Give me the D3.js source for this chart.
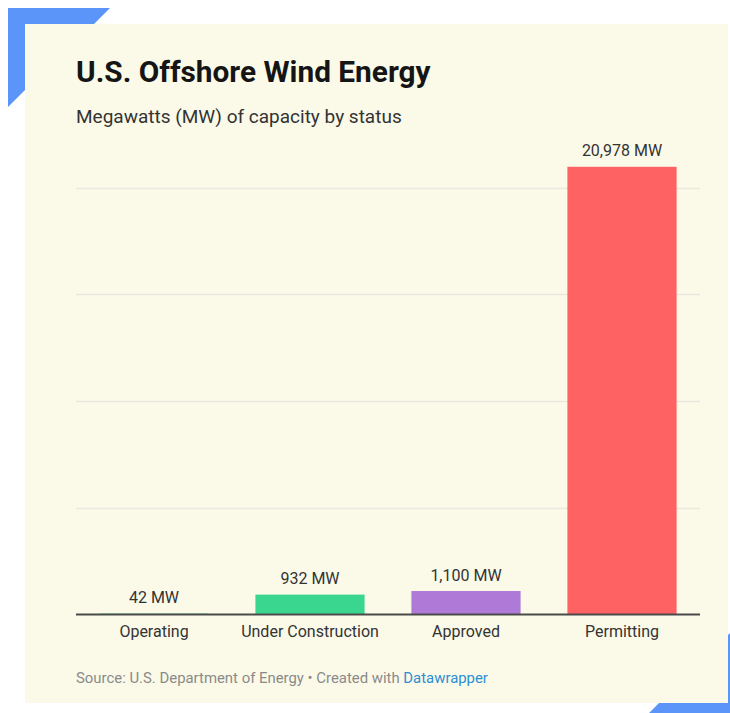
<!DOCTYPE html>
<html>
<head>
<meta charset="utf-8">
<script src="https://cdn.jsdelivr.net/npm/d3@7"></script>
<style>
  html, body { margin: 0; padding: 0; background: #ffffff; }
  svg { display: block; }
</style>
</head>
<body>
<svg id="chart" width="730" height="713"></svg>
<script>
// Offshore wind capacity by project status (MW)
const categories = ["Operating", "Under Construction", "Approved", "Permitting"];
const capacityMW = [42, 932, 1100, 20978];
const barColors = ["#3ad690", "#3ad690", "#af79d8", "#ff6262"];
const gridValues = [5000, 10000, 15000, 20000];

const titleText = "U.S. Offshore Wind Energy";
const subtitleText = "Megawatts (MW) of capacity by status";
const sourceText = "Source: U.S. Department of Energy • Created with ";
const creditText = "Datawrapper";

const svg = d3.select("#chart");
const font = "Roboto, 'Noto Sans', sans-serif";

// Blue corner brackets behind the card
const accent = "#5b95f9";
svg.append("polygon")
  .attr("points", "8,8 110,8 93,25 25,25 25,90 8,107")
  .attr("fill", accent);
svg.append("polygon")
  .attr("points", "746,617 746,717 645,717 659,703 728,703 728,635")
  .attr("fill", accent);

// Card
svg.append("rect")
  .attr("x", 25).attr("y", 24)
  .attr("width", 703).attr("height", 679)
  .attr("fill", "#fbfae9");

// Heading
svg.append("text")
  .attr("x", 76).attr("y", 82)
  .attr("font-family", font).attr("font-weight", 700)
  .attr("font-size", 29.8).attr("fill", "#151515")
  .text(titleText);
svg.append("text")
  .attr("x", 76).attr("y", 123)
  .attr("font-family", font).attr("font-size", 19)
  .attr("fill", "#333")
  .text(subtitleText);

// Scales
const x = d3.scaleBand()
  .domain(categories)
  .range([76, 700])
  .paddingInner(0.3)
  .paddingOuter(0.15);

const y = d3.scaleLinear()
  .domain([0, 20978])
  .range([614.5, 166.8]);

// Gridlines
svg.append("g")
  .selectAll("line")
  .data(gridValues)
  .join("line")
  .attr("x1", 76).attr("x2", 700)
  .attr("y1", d => Math.round(y(d)) + 0.5)
  .attr("y2", d => Math.round(y(d)) + 0.5)
  .attr("stroke", "#e8e8de")
  .attr("stroke-width", 1.5);

// Bars
svg.append("g")
  .selectAll("rect")
  .data(capacityMW)
  .join("rect")
  .attr("x", (d, i) => x(categories[i]))
  .attr("width", x.bandwidth())
  .attr("y", d => y(d))
  .attr("height", d => y(0) - y(d))
  .attr("fill", (d, i) => barColors[i]);

// Value labels
const fmt = d3.format(",");
svg.append("g")
  .selectAll("text")
  .data(capacityMW)
  .join("text")
  .attr("x", (d, i) => x(categories[i]) + x.bandwidth() / 2)
  .attr("y", d => y(d) - 10.5)
  .attr("text-anchor", "middle")
  .attr("font-family", font).attr("font-size", 16)
  .attr("fill", "#333")
  .text(d => fmt(d) + " MW");

// Baseline axis with category labels
const axis = d3.axisBottom(x).tickSize(0).tickPadding(0);
const gAxis = svg.append("g")
  .attr("transform", "translate(0,614.5)")
  .call(axis);
gAxis.select(".domain")
  .attr("d", "M76,0H700")
  .attr("stroke", "#4a4a4a")
  .attr("stroke-width", 2);
gAxis.selectAll(".tick text")
  .attr("dy", null)
  .attr("y", 22.5)
  .attr("font-family", font).attr("font-size", 16)
  .attr("fill", "#333");

// Source line
const src = svg.append("text")
  .attr("x", 76).attr("y", 682.5)
  .attr("font-family", font).attr("font-size", 14.9)
  .attr("fill", "#8a8a8a");
src.append("tspan").text(sourceText);
src.append("tspan").attr("fill", "#2a8fd3").text(creditText);
</script>
</body>
</html>
